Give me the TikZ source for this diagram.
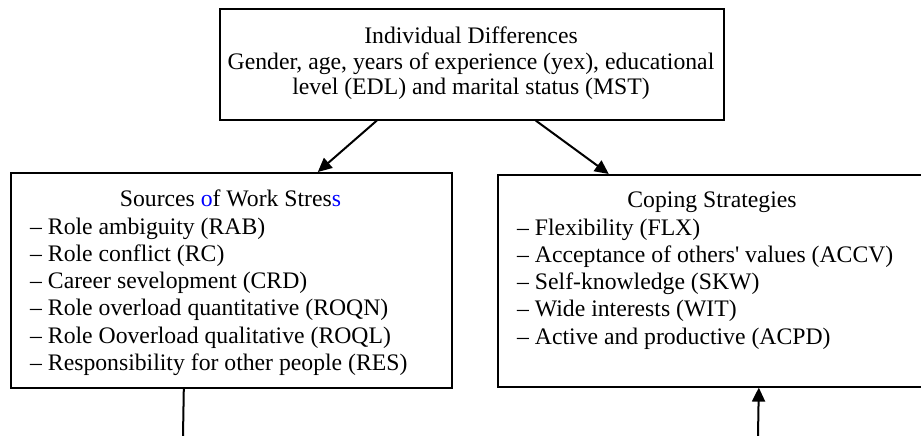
\documentclass[tikz,border=0pt]{standalone}
\usepackage{fontspec}
\setmainfont{Liberation Serif}
\usetikzlibrary{arrows.meta}
\begin{document}
\begin{tikzpicture}[x=1pt,y=1pt,
  box/.style={draw, line width=1.6pt, inner sep=0pt},
  txt/.style={font=\fontsize{23.7}{27.3}\selectfont, inner sep=0pt},
  conn/.style={line width=2pt},
  arr/.style={conn, -{Triangle[length=14pt,width=13pt]}}]
\useasboundingbox (0,0) rectangle (921,-436);
% boxes
\node[box, minimum width=504pt, minimum height=111pt, anchor=north west] (top) at (219,-8) {};
\node[box, minimum width=441pt, minimum height=215pt, anchor=north west] (src) at (10,-172) {};
\node[box, minimum width=430pt, minimum height=212pt, anchor=north west] (cope) at (497,-174) {};
% top box text
\node[txt, anchor=base] (t1) at (471,-44) {Individual Differences};
\node[txt, anchor=base] (t2) at (471,-69.5) {Gender, age, years of experience (yex), educational};
\node[txt, anchor=base] (t3) at (471,-95) {level (EDL) and marital status (MST)};
% left box text
\node[txt, anchor=base] (st) at (230.5,-206) {Sources {\color{blue}o}f Work Stres{\color{blue}s}};
\foreach \t [count=\i] in {{Role ambiguity (RAB)},{Role conflict (RC)},{Career sevelopment (CRD)},{Role overload quantitative (ROQN)},{Role Ooverload qualitative (ROQL)},{Responsibility for other people (RES)}}
  \node[txt, anchor=base west] (s\i) at (30,{-234-27.3*(\i-1)}) {-- \t};
% right box text
\node[txt, anchor=base] (ct) at (712,-207) {Coping Strategies};
\foreach \t [count=\i] in {{Flexibility (FLX)},{Acceptance of others\textquotesingle{} values (ACCV)},{Self-knowledge (SKW)},{Wide interests (WIT)},{Active and productive (ACPD)}}
  \node[txt, anchor=base west] (c\i) at (517,{-235-27.3*(\i-1)}) {-- \t};
% connectors
\draw[arr] ([xshift=-95pt]top.south) -- ([xshift=86.5pt]src.north);
\draw[arr] ([xshift=64pt]top.south) -- ([xshift=-104pt]cope.north);
\coordinate (bl) at (183,-436);
\coordinate (br) at (758,-436);
\draw[conn] ([xshift=-47.5pt]src.south) -- (bl);
\draw[arr] (br) -- ([xshift=46pt]cope.south);
\end{tikzpicture}
\end{document}
